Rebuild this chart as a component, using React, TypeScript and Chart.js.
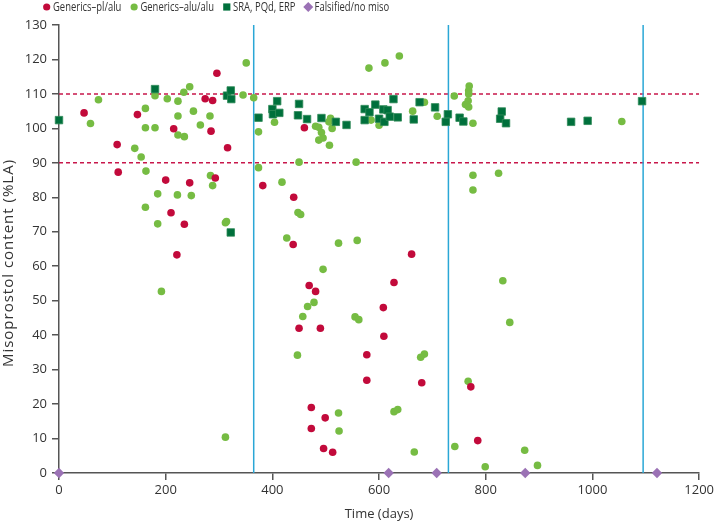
import React, { useEffect, useRef } from 'react';
import { Chart, registerables } from 'chart.js';

Chart.register(...registerables);

// ---- Data ----
const SERIES_LABELS = ['Generics–pl/alu', 'Generics–alu/alu', 'SRA, PQd, ERP', 'Falsified/no miso'];
const X_TITLE = 'Time (days)';
const Y_TITLE = 'Misoprostol content (%LA)';

const PL_ALU_DAYS = [47, 147, 109, 111, 215, 200, 245, 274, 288, 296, 285, 316, 293, 210, 235, 221, 460, 382, 440, 439, 661, 628, 469, 481, 608, 450, 490, 609, 577, 577, 680, 473, 499, 473, 496, 513, 772, 785];
const PL_ALU_VALUES = [104.5, 104, 95.3, 87.3, 99.9, 85, 84.2, 108.6, 108.1, 116, 99.2, 94.4, 85.6, 75.5, 72.2, 63.3, 100.2, 83.4, 80, 66.3, 63.5, 55.3, 54.4, 52.7, 48, 42, 42, 39.7, 34.3, 26.9, 26.2, 19, 16, 12.9, 7.1, 6, 25, 9.4];

const ALU_ALU_DAYS = [74, 59, 180, 162, 162, 180, 203, 223, 223, 234, 245, 223, 235, 252, 265, 283, 142, 154, 163, 284, 288, 185, 222, 248, 345, 351, 365, 374, 374, 162, 185, 312, 314, 192, 312,
  404, 581, 611, 638, 663, 685, 709, 741, 585, 600, 509, 506, 512, 481, 487, 492, 495, 487, 507, 450, 557, 418,
  769, 768, 768, 767, 762, 768, 776, 776, 776, 824, 1055,
  448, 453, 427, 524, 559, 495, 478, 466, 457, 555, 562, 447, 685, 678,
  524, 525, 628, 635, 666, 742, 832, 845, 767, 799, 873, 897];
const ALU_ALU_VALUES = [108.3, 101.4, 109.5, 105.8, 100.2, 100.2, 108.6, 107.9, 103.6, 110.5, 112.1, 98.1, 97.6, 105, 101, 103.6, 94.2, 91.7, 87.6, 86.3, 83.4, 81, 80.7, 80.5, 109.7, 119, 108.9, 99, 88.6, 77.1, 72.3, 72.6, 73, 52.7, 10.4,
  101.8, 117.5, 119, 121, 105, 107.6, 103.5, 109.4, 102.4, 100.9, 102.9, 101.9, 100, 100.6, 100.3, 98.8, 97.2, 96.6, 95.1, 90.2, 90.2, 84.4,
  112.3, 111, 110, 108, 106.9, 106.2, 101.5, 86.4, 82.1, 87, 102,
  75.6, 75, 68.2, 66.7, 67.5, 59.1, 49.5, 48.3, 45.4, 45.3, 44.5, 34.2, 34.5, 33.6,
  17.4, 12.2, 17.8, 18.4, 6.1, 7.7, 55.8, 43.7, 26.6, 1.8, 6.6, 2.2];

const SRA_DAYS = [0, 180, 315, 322, 323, 374, 322, 409, 400, 401, 413, 450, 448, 465, 492, 519, 539, 573, 582, 593, 573, 600, 608, 616, 610, 620, 627, 635, 665, 676, 705, 729, 725, 751, 758, 830, 827, 838, 960, 991, 1093];
const SRA_VALUES = [102.4, 111.4, 109.5, 111, 108.5, 103.1, 69.8, 107.9, 105.6, 104.1, 104.5, 107.1, 103.8, 102.7, 103, 101.9, 101, 105.6, 104.7, 106.9, 102.4, 102.8, 105.5, 105.3, 101.9, 103.4, 108.5, 103.2, 102.6, 107.6, 106.1, 104.1, 101.9, 103.1, 102, 104.9, 102.8, 101.5, 101.9, 102.2, 107.9];

const FALSIFIED_DAYS = [0, 618, 708, 874, 1121];
const FALSIFIED_VALUES = [0, 0, 0, 0, 0];

const LIMIT_LINES = [90, 110];
const YEAR_LINES = [365, 730, 1095];

const X_MIN = 0, X_MAX = 1200, X_STEP = 200;
const Y_MIN = 0, Y_MAX = 130, Y_STEP = 10;

// ---- Styles ----
const RED = '#c20a3b';
const LGREEN = '#76bc43';
const DGREEN = '#00703c';
const PURPLE = '#9b72b5';
const BLUE = '#2aa7d6';
const DASH_RED = '#c8174b';
const AXIS = '#555555';
const TEXT = '#333333';
const FONT = "'Open Sans', 'Noto Sans', sans-serif";

const zip = (xs: number[], ys: number[]) => xs.map((x, i) => ({ x, y: ys[i] }));

function drawMarker(ctx: CanvasRenderingContext2D, kind: string, x: number, y: number, color: string) {
  ctx.save();
  ctx.fillStyle = color;
  ctx.beginPath();
  if (kind === 'circle') {
    ctx.arc(x, y, 3.6, 0, Math.PI * 2);
  } else if (kind === 'rect') {
    ctx.rect(x - 3.6, y - 3.6, 7.2, 7.2);
  } else {
    ctx.moveTo(x, y - 5);
    ctx.lineTo(x + 5, y);
    ctx.lineTo(x, y + 5);
    ctx.lineTo(x - 5, y);
    ctx.closePath();
  }
  ctx.fill();
  ctx.restore();
}

const legendPlugin = {
  id: 'customLegend',
  afterDraw(chart: any) {
    const ctx: CanvasRenderingContext2D = chart.ctx;
    const items = chart.data.datasets.filter((d: any) => d.inLegend);
    ctx.save();
    ctx.font = `12.5px ${FONT}`;
    ctx.textBaseline = 'middle';
    ctx.textAlign = 'left';
    // condensed look: squeeze text horizontally
    const total = items.reduce((s: number, d: any) => s + ctx.measureText(d.label).width, 0);
    const squeeze = 279 / total;
    let x = 46.7;
    const y = 7;
    items.forEach((d: any) => {
      drawMarker(ctx, d.legendMarker, x, y, d.backgroundColor);
      const tx = x + 6.3;
      const w = ctx.measureText(d.label).width * squeeze;
      ctx.save();
      ctx.translate(tx, y + 0.5);
      ctx.scale(squeeze, 1);
      ctx.fillStyle = TEXT;
      ctx.fillText(d.label, 0, 0);
      ctx.restore();
      x = tx + w + 12.8;
    });
    ctx.restore();

    // y-axis title
    const area = chart.chartArea;
    ctx.save();
    ctx.translate(12.7, (area.top + area.bottom) / 2 + 14);
    ctx.rotate(-Math.PI / 2);
    ctx.font = `15px ${FONT}`;
    (ctx as any).letterSpacing = '1px';
    ctx.fillStyle = TEXT;
    ctx.textAlign = 'center';
    ctx.textBaseline = 'alphabetic';
    ctx.fillText(Y_TITLE, 0, 0);
    ctx.restore();
  },
};

export default function App() {
  const canvasRef = useRef<HTMLCanvasElement | null>(null);

  useEffect(() => {
    document.body.style.margin = '0';
    const canvas = canvasRef.current;
    if (!canvas) return;

    const lineSets: any[] = [];
    LIMIT_LINES.forEach((v) => {
      lineSets.push({
        type: 'line',
        label: `limit ${v}`,
        data: [{ x: X_MIN, y: v }, { x: X_MAX, y: v }],
        borderColor: DASH_RED,
        borderWidth: 1.5,
        borderDash: [4, 3],
        pointRadius: 0,
        showLine: true,
        fill: false,
        order: 6,
      });
    });
    YEAR_LINES.forEach((v) => {
      lineSets.push({
        type: 'line',
        label: `year ${v}`,
        data: [{ x: v, y: Y_MIN }, { x: v, y: Y_MAX }],
        borderColor: BLUE,
        borderWidth: 1.5,
        pointRadius: 0,
        showLine: true,
        fill: false,
        order: 5,
      });
    });

    const chart = new Chart(canvas, {
      type: 'scatter',
      data: {
        datasets: [
          {
            label: SERIES_LABELS[0],
            data: zip(PL_ALU_DAYS, PL_ALU_VALUES),
            backgroundColor: RED,
            borderColor: RED,
            borderWidth: 0,
            pointStyle: 'circle',
            pointRadius: 3.8,
            clip: false,
            order: 0,
            inLegend: true,
            legendMarker: 'circle',
          } as any,
          {
            label: SERIES_LABELS[1],
            data: zip(ALU_ALU_DAYS, ALU_ALU_VALUES),
            backgroundColor: LGREEN,
            borderColor: LGREEN,
            borderWidth: 0,
            pointStyle: 'circle',
            pointRadius: 3.8,
            clip: false,
            order: 2,
            inLegend: true,
            legendMarker: 'circle',
          } as any,
          {
            label: SERIES_LABELS[2],
            data: zip(SRA_DAYS, SRA_VALUES),
            backgroundColor: DGREEN,
            borderColor: '#2f8a58',
            borderWidth: 0.8,
            pointStyle: 'rect',
            pointRadius: 5.3,
            clip: false,
            order: 1,
            inLegend: true,
            legendMarker: 'rect',
          } as any,
          {
            label: SERIES_LABELS[3],
            data: zip(FALSIFIED_DAYS, FALSIFIED_VALUES),
            backgroundColor: PURPLE,
            borderColor: PURPLE,
            borderWidth: 0,
            pointStyle: 'rectRot',
            pointRadius: 5.2,
            clip: false,
            order: 3,
            inLegend: true,
            legendMarker: 'diamond',
          } as any,
          ...lineSets,
        ],
      },
      options: {
        responsive: false,
        animation: false,
        events: [],
        devicePixelRatio: 1,
        layout: { padding: { top: 25, right: 16, bottom: 0, left: 0 } },
        plugins: {
          legend: { display: false },
          tooltip: { enabled: false },
        },
        scales: {
          x: {
            type: 'linear',
            min: X_MIN,
            max: X_MAX,
            ticks: {
              stepSize: X_STEP,
              color: TEXT,
              font: { family: FONT, size: 13 },
              padding: 2,
              callback: (v: any) => String(v),
            },
            grid: {
              display: true,
              drawOnChartArea: false,
              drawTicks: true,
              tickLength: 7,
              color: AXIS,
              lineWidth: 1.5,
            },
            border: { display: true, color: AXIS, width: 1.5 },
            title: {
              display: true,
              text: X_TITLE,
              color: TEXT,
              font: { family: FONT, size: 13 },
              padding: { top: 0, bottom: 0 },
            },
            afterFit: (scale: any) => {
              scale.height = 49;
            },
          },
          y: {
            type: 'linear',
            min: Y_MIN,
            max: Y_MAX,
            ticks: {
              stepSize: Y_STEP,
              color: TEXT,
              font: { family: FONT, size: 13 },
              padding: 5,
              callback: (v: any) => String(v),
            },
            grid: {
              display: true,
              drawOnChartArea: false,
              drawTicks: true,
              tickLength: 7,
              color: AXIS,
              lineWidth: 1.5,
            },
            border: { display: true, color: AXIS, width: 1.5 },
            title: { display: false },
            afterFit: (scale: any) => {
              scale.width = 59;
            },
          },
        },
      } as any,
      plugins: [legendPlugin],
    });

    return () => {
      chart.destroy();
    };
  }, []);

  return (
    <div style={{ position: 'absolute', left: 0, top: 0, width: 716, height: 522 }}>
      <canvas ref={canvasRef} width={716} height={522} style={{ display: 'block' }} />
    </div>
  );
}
